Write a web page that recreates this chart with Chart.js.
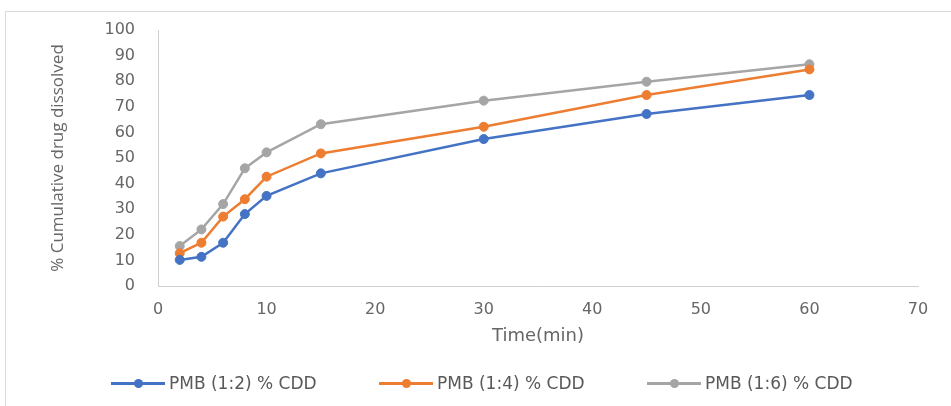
<!DOCTYPE html>
<html>
<head>
<meta charset="utf-8">
<title>Cumulative drug dissolved</title>
<script src="https://cdn.jsdelivr.net/npm/chart.js@4.4.1/dist/chart.umd.min.js"></script>
<style>
  html, body { margin: 0; padding: 0; background: #fff; }
  #wrap { position: relative; width: 951px; height: 406px; overflow: hidden; background: #fff; }
  #frame { position: absolute; left: 5px; top: 11px; right: -2px; bottom: -2px;
           border-top: 1px solid #dadada; border-left: 1px solid #dadada; pointer-events: none; }
  #chart { position: absolute; left: 0; top: 0; }
  #legend { position: absolute; left: 111px; top: 372px; display: flex;
            font-family: "DejaVu Sans", sans-serif; font-size: 17px; color: #595959; }
  .item { display: flex; align-items: center; width: 268px; height: 22px; white-space: nowrap; }
  .swatch { position: relative; width: 54px; height: 22px; margin-right: 4px; flex: none; }
  .swatch .ln { position: absolute; left: 0; right: 0; top: 10px; height: 2.5px; }
  .swatch .dot { position: absolute; left: 22.5px; top: 6.5px; width: 9px; height: 9px; border-radius: 50%; }
</style>
</head>
<body>
<div id="wrap">
  <canvas id="chart" width="951" height="406"></canvas>
  <div id="frame"></div>
  <div id="legend"></div>
</div>
<script>
// Sampling times (min)
const TIME_MIN = [2, 4, 6, 8, 10, 15, 30, 45, 60];

// % cumulative drug dissolved for each PMB ratio
const CDD_1_2 = [10.2, 11.4, 16.9, 28.1, 35.2, 44.0, 57.4, 67.2, 74.6];
const CDD_1_4 = [12.8, 16.9, 27.1, 33.9, 42.7, 51.8, 62.2, 74.6, 84.6];
const CDD_1_6 = [15.6, 22.1, 32.0, 46.0, 52.2, 63.2, 72.4, 79.8, 86.6];

const SERIES_LABELS = ['PMB (1:2) % CDD', 'PMB (1:4) % CDD', 'PMB (1:6) % CDD'];

// Axis tick values
const X_TICKS = [0, 10, 20, 30, 40, 50, 60, 70];
const Y_TICKS = [0, 10, 20, 30, 40, 50, 60, 70, 80, 90, 100];

const COLORS = ['#4472C4', '#ED7D31', '#A5A5A5'];
const TEXT_GRAY = '#666666';
const AXIS_GRAY = '#d0d0d0';

function toPoints(values) {
  return TIME_MIN.map((t, i) => ({ x: t, y: values[i] }));
}

function series(label, values, color) {
  return {
    label,
    data: toPoints(values),
    borderColor: color,
    backgroundColor: color,
    borderWidth: 2.5,
    pointRadius: 4.5,
    pointHoverRadius: 4.5,
    pointBorderWidth: 1,
    pointBorderColor: color,
    pointBackgroundColor: color,
    tension: 0,
    fill: false
  };
}

const chart = new Chart(document.getElementById('chart'), {
  type: 'line',
  data: {
    datasets: [
      series(SERIES_LABELS[0], CDD_1_2, COLORS[0]),
      series(SERIES_LABELS[1], CDD_1_4, COLORS[1]),
      series(SERIES_LABELS[2], CDD_1_6, COLORS[2])
    ]
  },
  options: {
    responsive: false,
    animation: false,
    devicePixelRatio: 1,
    layout: { padding: { top: 30, left: 0, right: 0, bottom: 0 } },
    plugins: {
      legend: { display: false },
      tooltip: { enabled: false }
    },
    scales: {
      x: {
        type: 'linear',
        min: 0,
        max: 70,
        afterBuildTicks: s => { s.ticks = X_TICKS.map(v => ({ value: v })); },
        afterFit: s => { s.height = 120; s.paddingRight = 33; },
        grid: { display: false, drawTicks: false },
        border: { display: true, color: AXIS_GRAY, width: 1 },
        ticks: {
          padding: 14,
          color: TEXT_GRAY,
          font: { family: 'DejaVu Sans', size: 16 },
          maxRotation: 0
        },
        title: {
          display: true,
          text: 'Time(min)',
          color: TEXT_GRAY,
          font: { family: 'DejaVu Sans', size: 18 },
          padding: { top: 0, bottom: 59 }
        }
      },
      y: {
        type: 'linear',
        min: 0,
        max: 100,
        afterBuildTicks: s => { s.ticks = Y_TICKS.map(v => ({ value: v })); },
        afterFit: s => { s.width = 158; s.paddingTop = 0; s.paddingBottom = 0; },
        grid: { display: false, drawTicks: false },
        border: { display: true, color: AXIS_GRAY, width: 1 },
        ticks: {
          padding: 23,
          color: TEXT_GRAY,
          font: { family: 'DejaVu Sans', size: 16 }
        },
        title: {
          display: true,
          text: '% Cumulative drug dissolved',
          color: TEXT_GRAY,
          font: { family: 'Open Sans', size: 17 },
          padding: { top: 48, bottom: 0 }
        }
      }
    }
  }
});

// HTML legend built from the chart's own legend items
const legendBox = document.getElementById('legend');
Chart.defaults.plugins.legend.labels.generateLabels(chart).forEach(item => {
  const el = document.createElement('div');
  el.className = 'item';
  const sw = document.createElement('div');
  sw.className = 'swatch';
  const ln = document.createElement('div');
  ln.className = 'ln';
  ln.style.background = item.strokeStyle;
  const dot = document.createElement('div');
  dot.className = 'dot';
  dot.style.background = item.fillStyle;
  sw.appendChild(ln);
  sw.appendChild(dot);
  const txt = document.createElement('span');
  txt.textContent = item.text;
  el.appendChild(sw);
  el.appendChild(txt);
  legendBox.appendChild(el);
});
</script>
</body>
</html>
